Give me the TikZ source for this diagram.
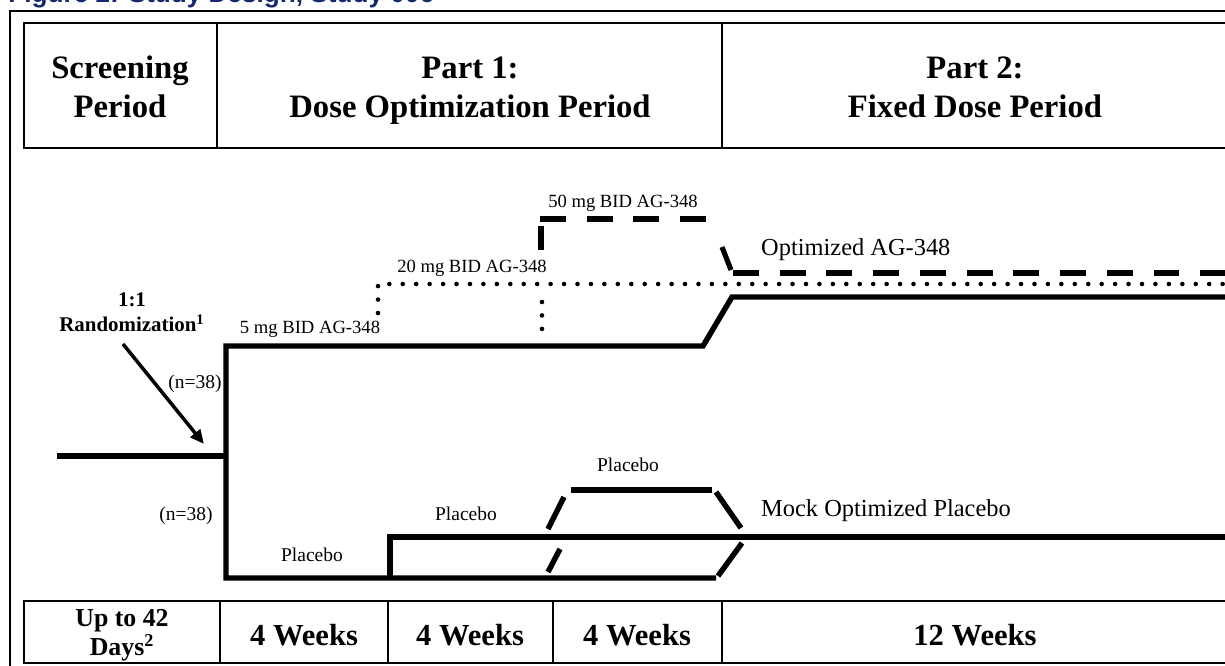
\documentclass[tikz,border=0pt]{standalone}
\usepackage{fontspec}
\setmainfont{Liberation Serif}
\newfontfamily\titlefont{Liberation Sans}
\usetikzlibrary{arrows.meta}
\definecolor{titleblue}{RGB}{20,40,110}
\newcommand{\twolines}[2]{\begin{tabular}[t]{@{}c@{}}#1\\#2\end{tabular}}

\begin{document}
\begin{tikzpicture}[x=0.02cm,y=-0.02cm,
    arm/.style={line width=3.1pt,line join=miter},
    dotarm/.style={line width=2.6pt,line cap=round,dash pattern=on 0pt off 7.65pt},
    dasharm/.style={line width=2.9pt,dash pattern=on 14.7pt off 11.9pt},
    grid/.style={line width=1.1pt},
    head/.style={font=\fontsize{18.6}{22.7}\selectfont\bfseries,anchor=base},
    weeks/.style={font=\fontsize{17.4}{20}\selectfont\bfseries,anchor=base},
    dose/.style={font=\fontsize{10.6}{12}\selectfont,anchor=base},
    armlabel/.style={font=\fontsize{13.9}{16}\selectfont,anchor=base west},
    small/.style={font=\fontsize{11.1}{13}\selectfont,anchor=base}]
    \useasboundingbox (0,0) rectangle (1225,666);
    \clip (0,0) rectangle (1225,666);

    % title, cut by the top edge
    \node[anchor=base west,inner sep=0pt,text=titleblue,
          font=\titlefont\fontsize{14.9}{17}\selectfont\bfseries] (title) at (8,3)
          {Figure 2: Study Design, Study 006};

    % frame and tables
    \draw[line width=1.4pt] (10,670) -- (10,11) -- (1235,11);
    \draw[grid] (24,23) rectangle (1228,148);
    \draw[grid] (217,23) -- (217,148);
    \draw[grid] (722,23) -- (722,148);
    \draw[grid] (24,601) rectangle (1228,663);
    \foreach \x in {220,388,553,722}
        \draw[grid] (\x,601) -- (\x,663);

    \node[head] (scr) at (120,78) {\twolines{Screening}{Period}};
    \node[head] (p1) at (470,78) {\twolines{Part 1:}{Dose Optimization Period}};
    \node[head] (p2) at (975,78) {\twolines{Part 2:}{Fixed Dose Period}};

    \node[anchor=base,font=\fontsize{14.7}{16.4}\selectfont\bfseries] (upto) at (122,626)
        {\twolines{Up to 42}{Days\textsuperscript{2}}};
    \node[weeks] (w1) at (304,645) {4 Weeks};
    \node[weeks] (w2) at (470,645) {4 Weeks};
    \node[weeks] (w3) at (637,645) {4 Weeks};
    \node[weeks] (w12) at (975,645) {12 Weeks};

    % arms
    \coordinate (s0) at (57,456);
    \coordinate (s1) at (226,456);
    \coordinate (a1) at (1235,297);
    \coordinate (a2) at (732,297);
    \coordinate (a3) at (703,346);
    \coordinate (a4) at (226,346);
    \coordinate (b1) at (226,578);
    \coordinate (b2) at (716,578);

    \draw[arm] (s0) -- (s1);
    \draw[arm] (a1) -- (a2) -- (a3) -- (a4) -- (b1) -- (b2);

    \draw[dotarm] (378,313) -- (378,284) -- (1235,284);
    \draw[dotarm] (542,302) -- (542,330);

    \draw[line width=2.9pt] (541,250) -- (541,226);
    \draw[dasharm] (540,219) -- (712,219);
    \draw[line width=2.9pt] (722,247) -- (731,270);
    \draw[dasharm] (733,273) -- (1235,273);

    \draw[arm] (390,578) -- (390,537) -- (1235,537);
    \draw[arm] (548,572) -- (560,549);
    \draw[arm] (548,529) -- (564,497);
    \draw[arm] (571,490) -- (712,490);
    \draw[arm] (716,492) -- (741,528);
    \draw[arm] (718,576) -- (742,543);

    % randomization
    \node[anchor=base,font=\fontsize{11.9}{14.7}\selectfont\bfseries] (rand) at (132,306)
        {\twolines{1:1}{Randomization\textsuperscript{1}}};
    \coordinate (arrS) at (123,344);
    \coordinate (arrE) at (204,444);
    \draw[line width=2pt,-{Triangle[length=8pt,width=7pt]}] (arrS) -- (arrE);

    % labels
    \node[dose] (d5) at (310,333) {5 mg BID AG-348};
    \node[dose] (d20) at (472,272) {20 mg BID AG-348};
    \node[dose] (d50) at (623,207) {50 mg BID AG-348};
    \node[armlabel] (opt) at (755,255) {Optimized AG-348};
    \node[armlabel] (mock) at (755,516) {Mock Optimized Placebo};
    \node[small] (n1) at (195,388) {(n=38)};
    \node[small] (n2) at (186,520) {(n=38)};
    \node[small] (pl1) at (312,561) {Placebo};
    \node[small] (pl2) at (466,520) {Placebo};
    \node[small] (pl3) at (628,471) {Placebo};
\end{tikzpicture}
\end{document}
